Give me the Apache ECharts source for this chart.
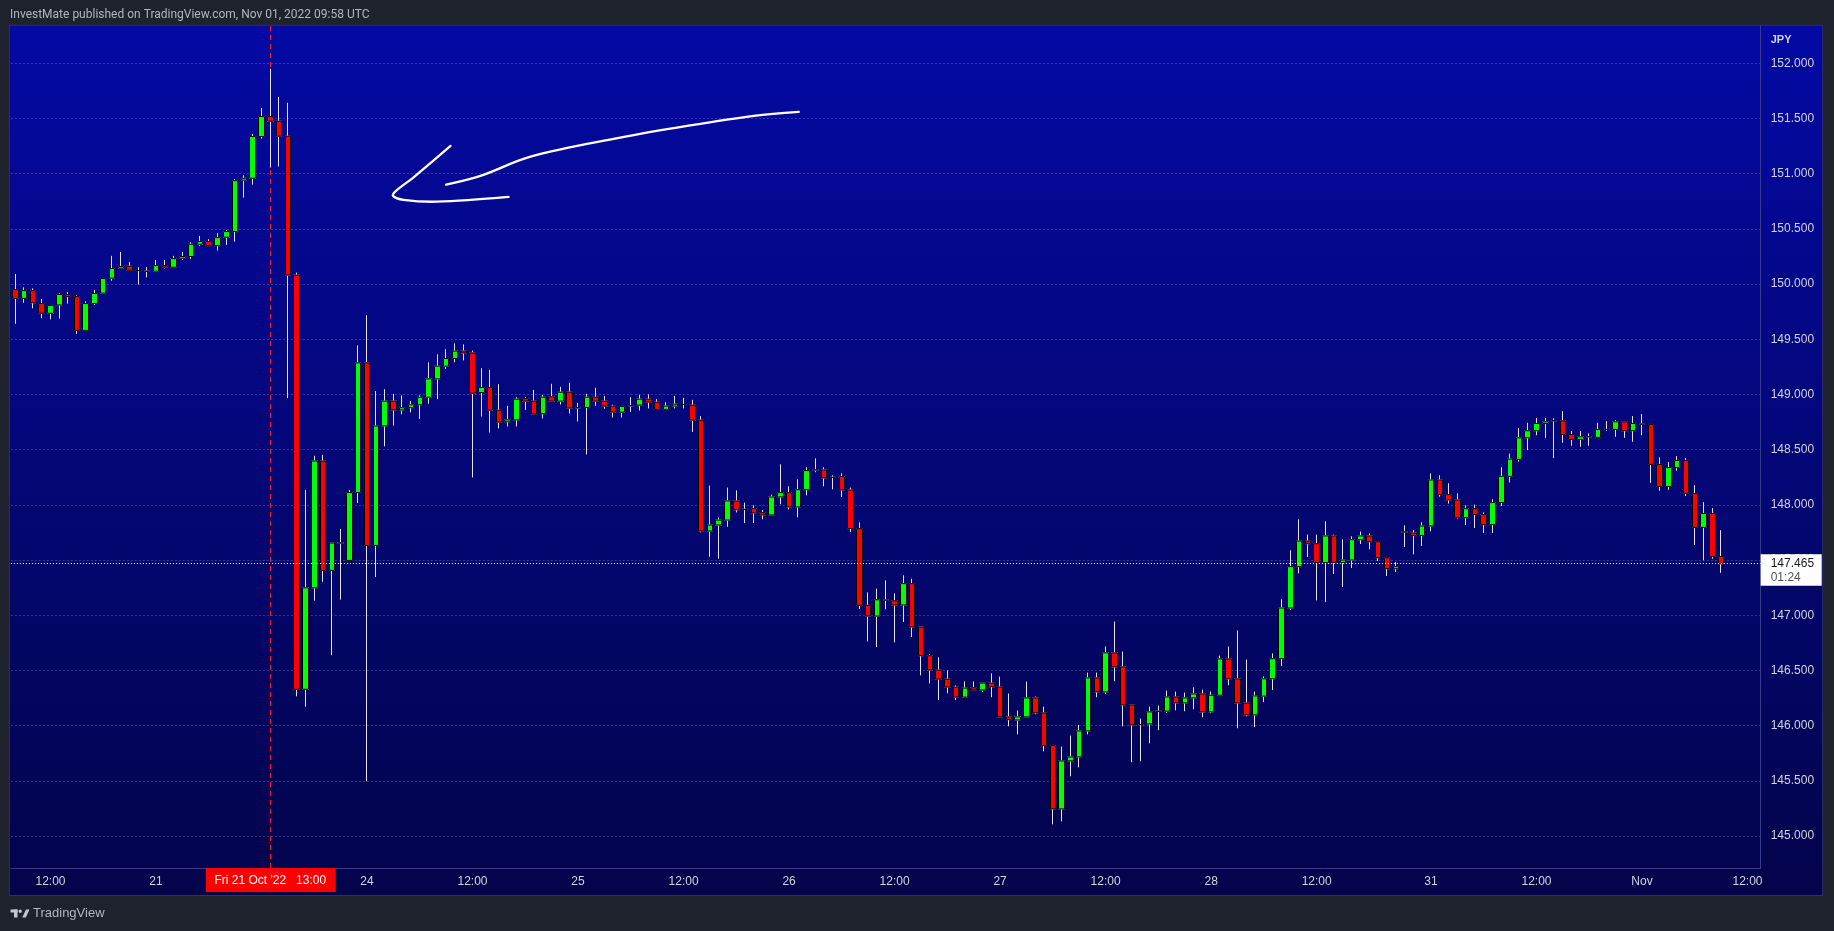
<!DOCTYPE html>
<html>
<head>
<meta charset="utf-8">
<script src="https://cdn.jsdelivr.net/npm/echarts@6/dist/echarts.min.js"></script>
<style>
html,body{margin:0;padding:0;background:#1e222d;}
#c{width:1834px;height:931px;}
</style>
</head>
<body>
<div id="c"></div>
<script>
// USDJPY 1h candles, Oct 20 08:00 UTC -> Nov 01 09:00 UTC
const opens = [149.95,149.87,149.94,149.823,149.735,149.81,149.905,149.886,149.58,149.823,
149.917,150.053,150.143,150.161,150.122,150.116,150.116,150.167,150.152,150.233,
150.249,150.36,150.385,150.348,150.424,150.475,150.94,150.958,151.336,151.517,
151.475,151.339,150.081,146.329,147.248,148.397,147.406,147.654,147.496,148.111,
149.286,147.632,148.714,148.94,148.859,148.88,148.906,148.974,149.141,149.256,
149.325,149.393,149.376,149.017,149.063,148.857,148.752,148.769,148.962,148.94,
148.825,148.979,148.939,149.02,148.879,148.882,148.975,148.939,148.894,148.839,
148.897,148.903,148.957,148.93,148.864,148.894,148.909,148.903,148.767,147.762,
147.817,147.862,148.035,147.959,147.965,147.929,147.908,148.071,148.11,147.98,
148.137,148.316,148.316,148.249,148.255,148.134,147.784,147.089,146.992,147.137,
147.131,147.092,147.286,146.893,146.633,146.503,146.421,146.349,146.258,146.343,
146.322,146.385,146.35,146.079,146.051,146.079,146.251,146.115,145.819,145.245,
145.68,145.716,145.952,146.432,146.305,146.659,146.532,146.187,146.009,146.015,
146.13,146.13,146.26,146.205,146.251,146.287,146.124,146.275,146.604,146.423,
146.205,146.097,146.267,146.424,146.606,147.065,147.44,147.672,147.648,147.476,
147.718,147.476,147.5,147.684,147.718,147.666,147.521,147.421,147.754,147.745,
147.721,147.808,148.225,148.092,148.044,147.884,147.965,147.911,147.82,148.02,
148.258,148.411,148.607,148.671,148.737,148.761,148.761,148.637,148.592,148.616,
148.61,148.683,148.683,148.752,148.671,148.731,148.728,148.366,148.166,148.338,
148.402,148.103,147.795,147.921,147.532];

const highs = [150.091,149.97,149.96,149.865,149.805,149.917,149.926,149.898,149.844,149.947,
150.05,150.255,150.29,150.2,150.152,150.152,150.218,150.218,150.255,150.29,
150.378,150.436,150.406,150.46,150.49,150.952,150.985,151.36,151.595,151.95,
151.695,151.641,150.103,148.133,148.444,148.453,147.654,147.782,148.133,149.444,
149.718,149.03,149.047,149.004,148.991,148.94,148.991,149.291,149.363,149.41,
149.462,149.453,149.397,149.238,149.222,149.093,148.897,148.975,148.975,149.041,
148.996,149.096,149.069,149.105,148.924,149.005,149.06,148.987,148.906,148.891,
148.975,148.996,149.0,148.957,148.93,148.987,148.969,148.951,148.803,148.174,
147.884,148.156,148.131,148.02,147.995,147.953,148.092,148.367,148.168,148.231,
148.34,148.421,148.34,148.267,148.285,148.156,147.841,147.207,147.24,147.316,
147.198,147.361,147.331,146.893,146.645,146.618,146.5,146.364,146.4,146.4,
146.385,146.473,146.444,146.29,146.136,146.399,146.263,146.172,145.819,145.81,
145.909,146.006,146.48,146.48,146.716,146.943,146.671,146.187,146.063,146.172,
146.181,146.317,146.308,146.299,146.347,146.326,146.308,146.634,146.716,146.861,
146.598,146.308,146.446,146.654,147.144,147.588,147.869,147.73,147.73,147.85,
147.73,147.687,147.715,147.757,147.739,147.666,147.521,147.482,147.814,147.772,
147.841,148.285,148.267,148.195,148.104,147.995,148.002,147.932,148.05,148.34,
148.463,148.695,148.743,148.785,148.785,148.785,148.849,148.668,148.668,148.647,
148.743,148.758,148.767,148.752,148.804,148.822,148.728,148.429,148.387,148.441,
148.423,148.178,148.024,147.97,147.77];

const lows = [149.639,149.83,149.78,149.69,149.68,149.687,149.823,149.548,149.58,149.81,
149.917,150.03,150.143,150.125,149.995,150.06,150.116,150.14,150.152,150.218,
150.228,150.345,150.348,150.303,150.354,150.384,150.783,150.9,151.318,151.055,
151.064,148.966,146.265,146.171,147.132,147.303,146.637,147.141,147.496,148.017,
145.496,147.346,148.53,148.718,148.82,148.838,148.778,148.915,148.957,149.231,
149.291,149.308,148.248,148.8,148.655,148.692,148.71,148.71,148.86,148.821,
148.782,148.939,148.909,148.827,148.755,148.456,148.897,148.87,148.791,148.791,
148.842,148.854,148.873,148.864,148.864,148.873,148.873,148.661,147.75,147.53,
147.512,147.802,147.931,147.835,147.835,147.869,147.908,148.005,147.959,147.887,
148.086,148.295,148.168,148.14,148.071,147.754,147.056,146.763,146.711,147.053,
146.754,146.938,146.802,146.455,146.382,146.231,146.292,146.231,146.258,146.325,
146.304,146.258,146.079,145.994,145.921,146.079,146.103,145.767,145.106,145.133,
145.541,145.622,145.921,146.257,146.287,146.402,145.994,145.668,145.677,145.84,
145.958,146.115,146.139,146.13,146.148,146.076,146.112,146.275,146.366,145.976,
146.085,145.985,146.213,146.322,146.539,147.047,147.379,147.527,147.134,147.119,
147.373,147.255,147.427,147.645,147.597,147.491,147.355,147.391,147.618,147.551,
147.627,147.76,148.074,148.011,147.875,147.817,147.79,147.745,147.745,147.989,
148.203,148.39,148.495,148.631,148.607,148.423,148.562,148.535,148.526,148.535,
148.61,148.671,148.616,148.607,148.571,148.631,148.199,148.127,148.136,148.308,
148.079,147.637,147.498,147.511,147.384];

const closes = [149.87,149.94,149.83,149.735,149.805,149.905,149.886,149.58,149.823,149.914,
150.05,150.14,150.158,150.125,150.122,150.116,150.167,150.152,150.23,150.249,
150.36,150.385,150.348,150.42,150.475,150.937,150.958,151.336,151.517,151.475,
151.339,150.081,146.329,147.248,148.397,147.406,147.654,147.654,148.111,149.286,
147.632,148.714,148.94,148.859,148.88,148.906,148.974,149.141,149.256,149.325,
149.393,149.376,149.011,149.063,148.857,148.749,148.77,148.957,148.939,148.821,
148.975,148.939,149.02,148.876,148.879,148.975,148.939,148.894,148.839,148.891,
148.897,148.957,148.93,148.864,148.894,148.912,148.909,148.767,147.762,147.817,
147.862,148.035,147.955,147.959,147.926,147.908,148.071,148.11,147.98,148.137,
148.31,148.316,148.243,148.249,148.134,147.784,147.089,146.992,147.14,147.137,
147.092,147.286,146.893,146.633,146.503,146.421,146.349,146.258,146.34,146.325,
146.385,146.352,146.079,146.054,146.079,146.251,146.115,145.819,145.245,145.68,
145.716,145.952,146.432,146.305,146.659,146.532,146.187,146.006,146.009,146.124,
146.13,146.26,146.205,146.251,146.287,146.124,146.275,146.604,146.423,146.205,
146.097,146.269,146.424,146.606,147.065,147.44,147.672,147.648,147.476,147.718,
147.476,147.5,147.684,147.718,147.666,147.521,147.421,147.44,147.754,147.721,
147.808,148.225,148.092,148.044,147.884,147.965,147.911,147.82,148.02,148.258,
148.414,148.607,148.671,148.737,148.752,148.761,148.637,148.592,148.616,148.616,
148.683,148.683,148.752,148.671,148.737,148.731,148.366,148.166,148.338,148.402,
148.103,147.795,147.921,147.532,147.465];

// time-axis tick labels (bar index -> text)
const tickPos  = [4, 16, 40, 52, 64, 76, 88, 100, 112, 124, 136, 148, 161, 173, 185, 197];
const tickText = ['12:00','21','24','12:00','25','12:00','26','12:00','27','12:00','28','12:00','31','12:00','Nov','12:00'];

const slotCount = 199;          // bars + empty right margin
const yMin = 144.71, yMax = 152.34;
const lastPrice = 147.465;
const countdown = '01:24';
const crossIndex = 29;
const crossLabel = "Fri 21 Oct '22   13:00";
const headerText = 'InvestMate published on TradingView.com, Nov 01, 2022 09:58 UTC';

// hand-drawn arrow strokes, in (bar index, price)
const arrowLong = [[89.1,151.559],[84.0,151.523],[76.4,151.432],[68.8,151.326],[58.6,151.154],[52.9,150.979],[49.0,150.9]];
const arrowHead = [[49.5,151.251],[45.3,150.967],[43.2,150.837],[42.95,150.798],[44.16,150.762],[47.96,150.746],[56.1,150.789]];

const chart = echarts.init(document.getElementById('c'), null, {renderer:'canvas', width:1834, height:931});
const cats = Array.from({length: slotCount}, (_, i) => 'b' + i);
const tickMap = new Map(tickPos.map((p, k) => [p, tickText[k]]));
const wickData = opens.map((o, i) => [o, closes[i], lows[i], highs[i]]);
const bodyData = opens.map((o, i) => [o, closes[i], Math.min(o, closes[i]), Math.max(o, closes[i])]);

const AX_FONT = "'Liberation Sans', Arial, sans-serif";
const WICK = '#e4e4ee';

const option = {
  backgroundColor: '#1e222d',
  animation: false,
  grid: {left: 10.9, right: 73.3, top: 25.7, bottom: 63, containLabel: false, outerBoundsMode: 'none'},
  xAxis: {
    type: 'category', data: cats, boundaryGap: true,
    axisLine: {show: true, lineStyle: {color: '#363c8c', width: 1}},
    axisTick: {show: false},
    splitLine: {show: false},
    axisLabel: {
      interval: (i) => tickMap.has(i),
      formatter: (v, i) => tickMap.get(i) || '',
      color: '#d1d4dc', fontSize: 12, fontFamily: AX_FONT, margin: 8
    }
  },
  yAxis: {
    type: 'value', position: 'right', min: yMin, max: yMax,
    minInterval: 0.5, maxInterval: 0.5, scale: true,
    axisLine: {show: true, lineStyle: {color: '#363c8c', width: 1}},
    axisTick: {show: false},
    axisLabel: {
      showMinLabel: false, showMaxLabel: false,
      formatter: (v) => v.toFixed(3),
      color: '#d1d4dc', fontSize: 12, fontFamily: AX_FONT, margin: 10
    },
    splitLine: {show: true, showMinLine: false, showMaxLine: false,
      lineStyle: {color: 'rgba(130,140,230,0.38)', type: [2, 2], width: 1}}
  },
  series: [
    {type: 'line', data: [], z: 1, silent: true,
     markLine: {silent: true, z: 1, symbol: ['none', 'none'], label: {show: false},
       lineStyle: {color: '#ff1a1a', type: [5, 4], width: 1},
       data: [{xAxis: cats[crossIndex]}]}},
    {type: 'candlestick', name: 'wick', z: 2, silent: true, barWidth: 6, data: wickData,
     itemStyle: {color: WICK, color0: WICK, borderColor: WICK, borderColor0: WICK, borderColorDoji: WICK, borderWidth: 1}},
    {type: 'candlestick', name: 'body', z: 3, silent: true, barWidth: 6, data: bodyData,
     itemStyle: {color: '#00ff00', color0: '#ff0000', borderColor: '#000000', borderColor0: '#000000', borderColorDoji: '#000000', borderWidth: 1}},
    {type: 'line', data: [], z: 4, silent: true,
     markLine: {silent: true, symbol: ['none', 'none'], label: {show: false},
       lineStyle: {color: '#ffffff', type: [1, 2], width: 1},
       data: [{yAxis: lastPrice}]}}
  ]
};
chart.setOption(option);

// pixel helpers through the chart's own scales
const x0 = chart.convertToPixel({xAxisIndex: 0}, cats[0]);
const x1 = chart.convertToPixel({xAxisIndex: 0}, cats[1]);
const step = x1 - x0;
const xAt = (i) => x0 + i * step;
const yAt = (v) => chart.convertToPixel({yAxisIndex: 0}, v);
const plotLeft = xAt(-0.5), plotRight = xAt(slotCount - 0.5);
const plotTop = yAt(yMax), plotBottom = yAt(yMin);
const toPx = (p) => [xAt(p[0]), yAt(p[1])];

function txt(text, x, y, font, fill, align, valign) {
  return {type: 'text', z: 100, silent: true, x: x, y: y,
    style: {text: text, font: font, fill: fill, align: align || 'left', verticalAlign: valign || 'middle',
            textAlign: align || 'left', textVerticalAlign: valign || 'middle'}};
}

const lastY = yAt(lastPrice);
const crossX = xAt(crossIndex);
const logoFill = '#c3c6ce';

chart.setOption({
  graphic: [
    {type: 'rect', z: -100, silent: true,
     shape: {x: plotLeft - 1.5, y: plotTop - 0.5, width: plotRight + 62 - plotLeft + 1.5, height: plotBottom + 27.5 - plotTop + 0.5},
     style: {fill: {type: 'linear', x: 0, y: 0, x2: 0, y2: 1,
       colorStops: [{offset: 0, color: '#0409a4'}, {offset: 1, color: '#03044a'}]},
       stroke: '#2b2f6a', lineWidth: 1}},
    // header / footer
    txt(headerText, 10, 15, "12px Roboto, 'Liberation Sans', sans-serif", '#b2b5be'),
    {type: 'rect', z: 100, silent: true, shape: {x: 10.5, y: 909.5, width: 7, height: 3}, style: {fill: logoFill}},
    {type: 'rect', z: 100, silent: true, shape: {x: 14, y: 909.5, width: 3.5, height: 8}, style: {fill: logoFill}},
    {type: 'circle', z: 100, silent: true, shape: {cx: 20.2, cy: 911.2, r: 1.7}, style: {fill: logoFill}},
    {type: 'polygon', z: 100, silent: true, shape: {points: [[22.3, 917.5], [25.8, 917.5], [29.5, 909.5], [26, 909.5]]}, style: {fill: logoFill}},
    txt('TradingView', 33, 913.5, "13px 'Liberation Sans', Arial, sans-serif", '#b2b5be'),
    // price scale unit
    txt('JPY', plotRight + 10, 40, "bold 11px 'Liberation Sans', Arial, sans-serif", '#d1d4dc'),
    // last price box
    {type: 'rect', z: 100, silent: true, shape: {x: plotRight, y: lastY - 9.5, width: 61, height: 31.5}, style: {fill: '#ffffff'}},
    txt(lastPrice.toFixed(3), plotRight + 10, lastY, "12px 'Liberation Sans', Arial, sans-serif", '#131722'),
    txt(countdown, plotRight + 10, lastY + 14, "12px 'Liberation Sans', Arial, sans-serif", '#50535e'),
    // crosshair time label
    {type: 'rect', z: 100, silent: true, shape: {x: crossX - 64.5, y: plotBottom, width: 130, height: 24}, style: {fill: '#ff0000'}},
    txt(crossLabel, crossX, plotBottom + 12.5, "12px 'Liberation Sans', Arial, sans-serif", '#ffffff', 'center'),
    // hand-drawn arrow
    {type: 'polyline', z: 100, silent: true, shape: {points: arrowLong.map(toPx), smooth: 0.35},
     style: {stroke: '#ffffff', lineWidth: 2.3, lineCap: 'round', lineJoin: 'round', fill: null}},
    {type: 'polyline', z: 100, silent: true, shape: {points: arrowHead.map(toPx), smooth: 0.35},
     style: {stroke: '#ffffff', lineWidth: 2.3, lineCap: 'round', lineJoin: 'round', fill: null}}
  ]
});
</script>
</body>
</html>
